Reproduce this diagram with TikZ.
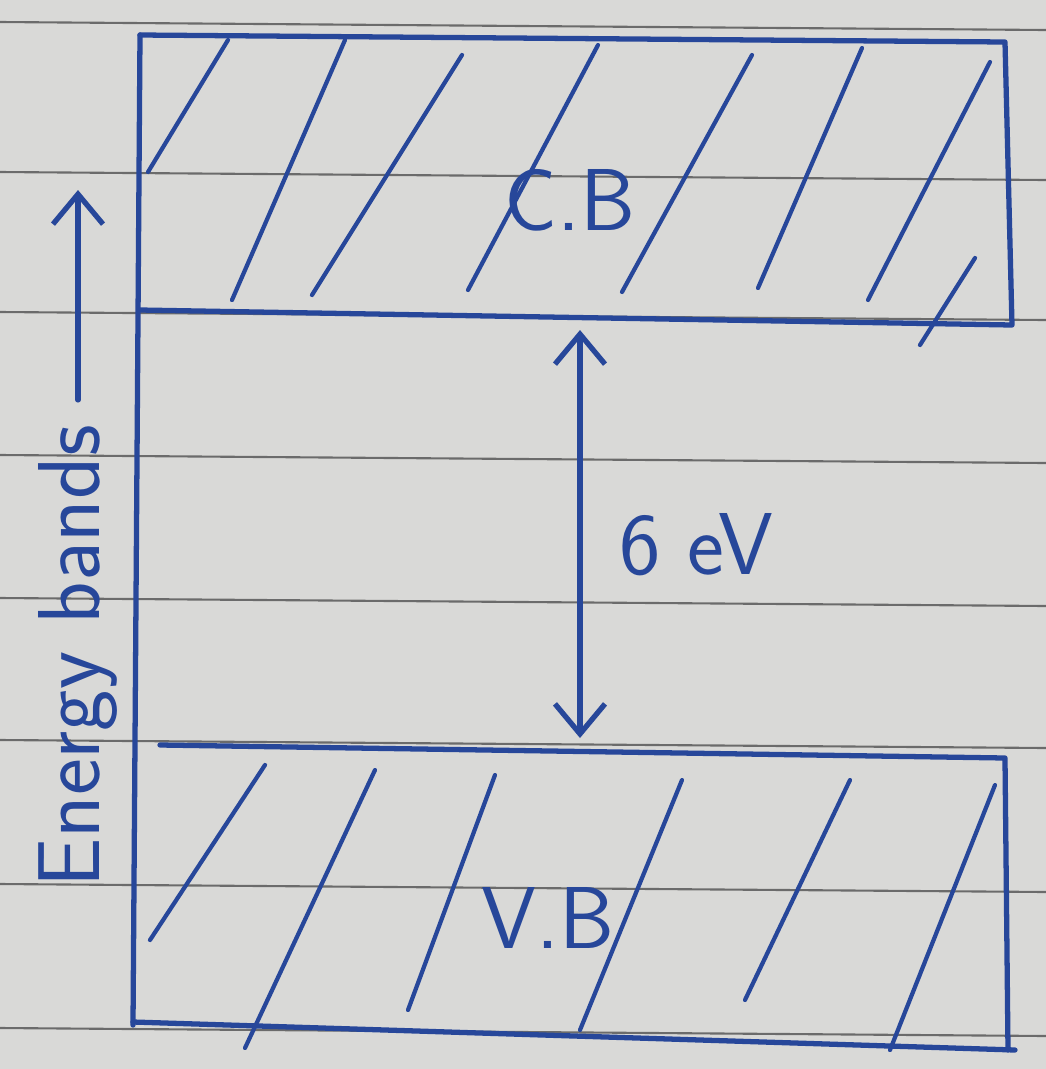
\documentclass[tikz,border=0pt]{standalone}
\usepackage{tikz}
\usetikzlibrary{arrows.meta,positioning}
\definecolor{InkBlue}{HTML}{27479A}
\definecolor{PaperGrey}{HTML}{D9D9D7}
\definecolor{RuleGrey}{HTML}{3A3A3A}

\begin{document}
\begin{tikzpicture}[x=0.01cm,y=-0.01cm,>={Straight Barb[length=3mm,width=5mm]},font=\sffamily]
\tikzset{ink/.style={draw=InkBlue,line width=1.5pt,line cap=round,line join=round},
         hatch/.style={draw=InkBlue,line width=1.2pt,line cap=round},
         rule/.style={draw=RuleGrey!75,line width=0.6pt},
         bandlabel/.style={text=InkBlue,inner sep=1pt,font=\sffamily\fontsize{25}{27}\selectfont}}
\fill[PaperGrey] (0,0) rectangle (1046,1069);
\useasboundingbox (0,0) rectangle (1046,1069);
% ruled lines of the page
\foreach \y in {22,172,312,455,598,740,884,1028}
  \draw[rule] (0,\y) -- (1046,\y+8);
% conduction band
\draw[ink] (140,35) -- (1005,42) -- (1012,325) -- (140,310);
\foreach \a/\b/\c/\d in {148/172/228/40, 232/300/345/40, 312/295/462/55, 468/290/598/45,
                         622/292/752/55, 758/288/862/48, 868/300/990/62, 920/345/975/258}
  \draw[hatch] (\a,\b) -- (\c,\d);
% valence band
\draw[ink] (160,745) -- (1005,758) -- (1008,1050);
\draw[ink] (133,1022) -- (1015,1050);
\foreach \a/\b/\c/\d in {150/940/265/765, 245/1048/375/770, 408/1010/495/775,
                         580/1030/682/780, 745/1000/850/780, 890/1050/995/785}
  \draw[hatch] (\a,\b) -- (\c,\d);
% energy axis
\draw[ink] (140,35) -- (133,1025);
\node[bandlabel] (cb) at (570,200) {C.B};
\node[bandlabel] (vb) at (548,918) {V.B};
% band gap
\coordinate (cbedge) at (580,330);
\coordinate (vbedge) at (580,738);
\draw[ink,<->] (cbedge) -- (vbedge);
\node[bandlabel,anchor=west] (gap) at (615,545) {6 eV};
\node[bandlabel,rotate=90,anchor=west] (axis) at (78,892) {Energy bands};
\coordinate (axistip) at (78,190);
\draw[ink,->] ([yshift=6pt]axis.east) -- (axistip);
\end{tikzpicture}
\end{document}
